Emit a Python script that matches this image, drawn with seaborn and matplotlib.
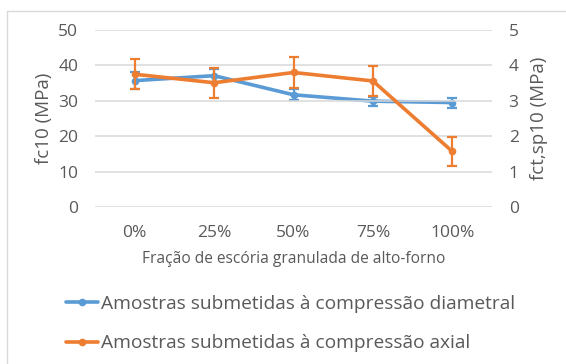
import matplotlib
matplotlib.use("Agg")
import matplotlib.pyplot as plt
import seaborn as sns
import pandas as pd
from matplotlib.lines import Line2D

# Data
categories = ["0%", "25%", "50%", "75%", "100%"]
diametral = [3.57, 3.71, 3.17, 2.99, 2.95]          # fct,sp10 (MPa), right axis
diametral_err = [0.23, 0.18, 0.15, 0.13, 0.14]
axial = [37.5, 35.1, 38.0, 35.6, 15.7]              # fc10 (MPa), left axis
axial_err = [4.2, 4.2, 4.35, 4.15, 4.1]

label_diam = "Amostras submetidas à compressão diametral"
label_axial = "Amostras submetidas à compressão axial"

blue = "#5B9BD5"
orange = "#ED7D31"
txt = "#595959"
grid = "#D9D9D9"

sns.set_theme(style="white")
plt.rcParams["font.family"] = ["Open Sans", "DejaVu Sans"]

df = pd.DataFrame({"cat": categories, "x": range(len(categories)),
                   "diam": diametral, "axial": axial})

W, H = 566, 364
fig = plt.figure(figsize=(W / 100, H / 100), dpi=100)
ax = fig.add_axes([95 / W, 1 - 207 / H, 397 / W, 177 / H])
ax2 = ax.twinx()

# orange series (left axis) drawn above the blue one
ax.set_zorder(ax2.get_zorder() + 1)
ax.patch.set_visible(False)

sns.lineplot(data=df, x="x", y="diam", ax=ax2, color=blue, lw=2.6,
             marker="o", markersize=5.5, markeredgewidth=0, legend=False)
ax2.errorbar(df["x"], df["diam"], yerr=diametral_err, fmt="none",
             ecolor=blue, elinewidth=1.6, capsize=3.5, capthick=1.6)

sns.lineplot(data=df, x="x", y="axial", ax=ax, color=orange, lw=2.6,
             marker="o", markersize=5.5, markeredgewidth=0, legend=False)
ax.errorbar(df["x"], df["axial"], yerr=axial_err, fmt="none",
            ecolor=orange, elinewidth=1.6, capsize=3.5, capthick=1.6)

ax.set_xlim(-0.5, len(categories) - 0.5)
ax.set_ylim(0, 50)
ax2.set_ylim(0, 5)
ax.set_yticks(range(0, 51, 10))
ax2.set_yticks(range(0, 6))
ax.set_xticks(range(len(categories)))
ax.set_xticklabels(categories)

ax.yaxis.grid(True, color=grid, lw=1.1)
ax.xaxis.grid(False)
ax2.grid(False)
for a in (ax, ax2):
    for s in a.spines.values():
        s.set_visible(False)
    a.tick_params(length=0, labelsize=12.5, colors=txt)
ax.tick_params(axis="y", pad=12)
ax2.tick_params(axis="y", pad=12)
ax.tick_params(axis="x", pad=13)

ax.set_xlabel("Fração de escória granulada de alto-forno", fontsize=11.2,
              color=txt, labelpad=7)
ax.set_ylabel("fc10 (MPa)", fontsize=13.5, color=txt, labelpad=4)
ax2.set_ylabel("fct,sp10 (MPa)", fontsize=13.5, color=txt, labelpad=8)

# chart frame
fig.add_artist(Line2D([7 / W, 7 / W], [1 - 11 / H, 0], color=grid,
                      lw=1, transform=fig.transFigure))
fig.add_artist(Line2D([7 / W, 1], [1 - 11 / H, 1 - 11 / H], color=grid,
                      lw=1, transform=fig.transFigure))

handles = [Line2D([], [], color=blue, lw=2.6, marker="o", markersize=5.5, markeredgewidth=0),
           Line2D([], [], color=orange, lw=2.6, marker="o", markersize=5.5, markeredgewidth=0)]
leg = fig.legend(handles, [label_diam, label_axial], loc="upper left",
                 bbox_to_anchor=(66 / W, 1 - 295 / H), frameon=False,
                 fontsize=13.8, handlelength=1.67, handletextpad=0.16,
                 labelspacing=1.12, borderaxespad=0, borderpad=0)
for t in leg.get_texts():
    t.set_color(txt)

fig.savefig("out.png", dpi=100)
